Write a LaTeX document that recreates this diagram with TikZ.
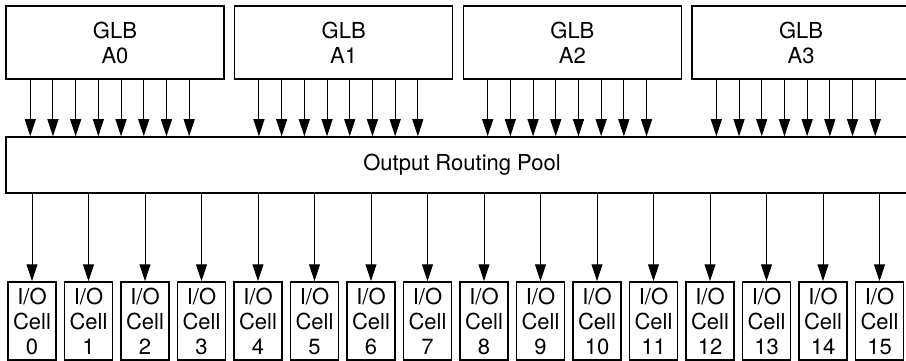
\documentclass[tikz,border=0pt]{standalone}
\usepackage{fontspec}
\setmainfont{TeX Gyre Heros}
\usetikzlibrary{arrows.meta}

\begin{document}
\begin{tikzpicture}[x=1pt,y=-1pt,
  box/.style={draw,line width=1.5pt,inner sep=0pt,align=center,
    font=\fontsize{22}{25}\selectfont},
  arr/.style={line width=1pt,-{Triangle[width=11pt,length=17pt]}}]
  \useasboundingbox (0,0) rectangle (906,361);
  % generic logic blocks
  \foreach \i in {0,...,3}
    \node[box,minimum width=218pt,minimum height=73pt] (glb\i) at (115+228.7*\i,42.5) {GLB\\A\i};
  \node[box,minimum width=912pt,minimum height=56pt] (pool) at (462,165) {Output Routing Pool};
  % output cells
  \foreach \i in {0,...,15}
    \node[box,minimum width=48pt,minimum height=78pt] (cell\i) at (32+56.5*\i,321) {I/O\\Cell\\\i};
  % block outputs into the pool
  \foreach \i in {0,...,3}
    \foreach \k in {0,...,7} {
      \pgfmathsetmacro{\off}{25+22.7*\k}
      \path ([xshift=\off pt]glb\i.south west) coordinate (o\i\k);
      \draw[arr] (o\i\k) -- (o\i\k |- pool.north);
    }
  % pool to cells
  \foreach \i in {0,...,15}
    \draw[arr] (pool.south -| cell\i.north) -- (cell\i.north);
\end{tikzpicture}
\end{document}
